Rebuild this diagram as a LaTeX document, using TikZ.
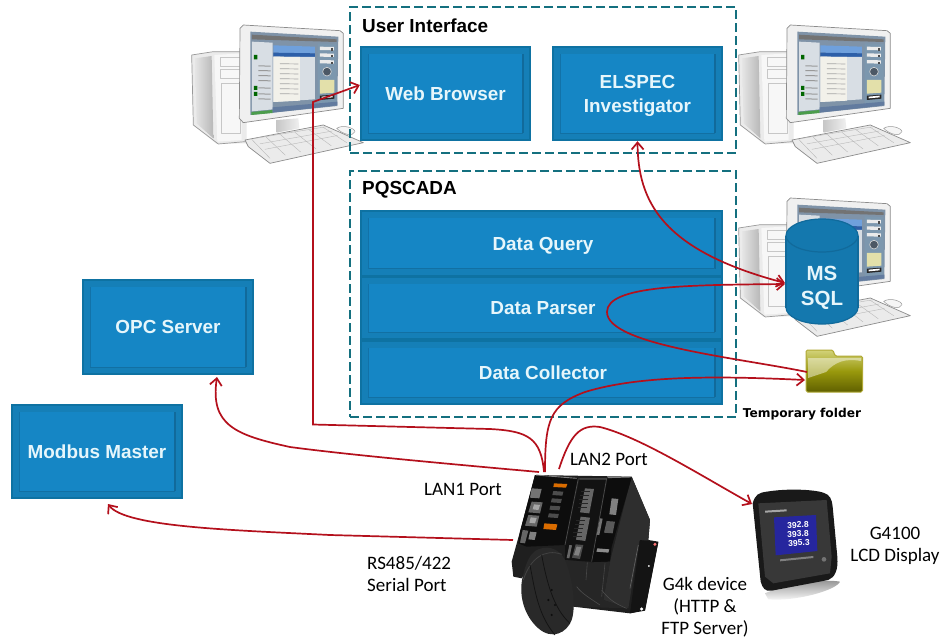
\documentclass[tikz,border=0pt]{standalone}
\usepackage{fontspec}
\setmainfont{Liberation Sans}
\newfontfamily\calib{Carlito}
\newfontfamily\dejab{DejaVu Sans}
\usetikzlibrary{arrows.meta}
\definecolor{rimblue}{HTML}{157FB7}
\definecolor{edgeblue}{HTML}{0E72A2}
\definecolor{fieldblue}{HTML}{1586C5}
\definecolor{bevdark}{HTML}{116A9B}
\definecolor{boxtext}{HTML}{E6F6FB}
\definecolor{cylblue}{HTML}{1478AE}
\definecolor{teal}{HTML}{14707F}
\definecolor{wire}{HTML}{B4101C}
\definecolor{scrframe}{HTML}{7F93A8}
\definecolor{scrpanel}{HTML}{D8DEE4}
\definecolor{scrhead}{HTML}{6FA0DC}
\definecolor{scrbar}{HTML}{2D5FA8}
\definecolor{scrpage}{HTML}{F2F1EA}
\definecolor{scrcol}{HTML}{7C97AE}
\tikzset{
  block/.style={fill=rimblue,draw=edgeblue,line width=2.4pt,text=boxtext,font=\fontsize{18.9}{22}\selectfont\bfseries,align=center,inner sep=0pt,
    path picture={
      \fill[fieldblue] ([shift={(7pt,7pt)}]path picture bounding box.south west) rectangle ([shift={(-7pt,-7pt)}]path picture bounding box.north east);
      \draw[bevdark,line width=1.2pt] ([shift={(-7pt,7pt)}]path picture bounding box.south east) -- ([shift={(-7pt,-7pt)}]path picture bounding box.north east);
      \draw[bevdark!80!fieldblue,line width=.8pt] ([shift={(7pt,7pt)}]path picture bounding box.south west) -- ([shift={(-7pt,7pt)}]path picture bounding box.south east);
      \draw[bevdark!70!fieldblue,line width=.8pt] ([shift={(7pt,7pt)}]path picture bounding box.south west) -- ([shift={(7pt,-7pt)}]path picture bounding box.north west);
    }},
  group/.style={draw=teal,line width=2pt,dash pattern=on 9pt off 4pt,inner sep=0pt},
  grouptitle/.style={font=\fontsize{18.9}{22}\selectfont\bfseries,text=black,anchor=west,inner sep=0pt},
  portlabel/.style={font=\calib\fontsize{19}{22}\selectfont,text=black,align=center,inner sep=0pt},
  wireline/.style={draw=wire,line width=1.7pt},
  tip/.style={-{Straight Barb[length=7pt,width=12pt,line width=1.7pt]}},
  tips/.style={{Straight Barb[length=7pt,width=12pt,line width=1.7pt]}-{Straight Barb[length=7pt,width=12pt,line width=1.7pt]}},
  region/.style={inner sep=0pt,draw=none}
}
\newcommand{\topstrut}{\rule{0pt}{17pt}}
\newcommand{\pcshape}[2]{%
\begin{scope}[shift={(180+#1,#2)},x=0.3333pt,y=-0.3333pt,line join=round]
  % tower
  \fill[black!8] (190,430) -- (110,432) -- (40,375) -- (35,165) -- (100,155) -- (200,155) -- (200,430) -- cycle;
  \draw[black!40,line width=.7pt] (180,155) -- (100,155) -- (35,165) -- (40,375) -- (115,432) -- (195,425);
  \shade[left color=black!10,right color=black!28] (45,175) -- (95,168) -- (100,415) -- (50,370) -- cycle;
  \fill[black!3] (103,165) -- (185,160) -- (185,420) -- (112,425) -- cycle;
  \draw[black!22,line width=.5pt] (122,172) rectangle (180,200) (122,208) rectangle (180,235) (125,250) rectangle (180,400);
  % keyboard
  \fill[black!8] (195,420) -- (430,375) -- (550,428) -- (270,490) -- (205,440) -- cycle;
  \draw[black!45,line width=.7pt] (195,420) -- (430,375) -- (550,428) -- (270,490) -- (205,440) -- cycle;
  \foreach \t in {0,.2,.4,.6,.8,1}
    \draw[black!28,line width=.4pt] ({215+\t*215},{418+\t*(-36)}) -- ({270+\t*230},{475+\t*(-47)});
  \foreach \t in {0,.33,.66}
    \draw[black!28,line width=.4pt] ({225+\t*45},{415+\t*50}) -- ({440+\t*50},{380+\t*40});
  \fill[black!4] (470,385) .. controls (490,372) and (525,385) .. (525,395) .. controls (520,410) and (490,405) .. (470,385) -- cycle;
  \draw[black!40,line width=.5pt] (470,385) .. controls (490,372) and (525,385) .. (525,395) .. controls (520,410) and (490,405) .. (470,385) -- cycle;
  % stand
  \shade[left color=black!22,right color=black!6] (290,360) -- (355,355) -- (358,385) -- (290,398) -- cycle;
  % monitor
  \fill[black!6] (180,85) -- (190,75) -- (480,92) -- (490,100) -- (490,325) -- (190,368) -- (178,355) -- cycle;
  \draw[black!45,line width=.7pt] (180,85) -- (190,75) -- (480,92) -- (490,100) -- (490,325) -- (190,368) -- (178,355) -- cycle;
  \fill[scrframe] (211,95) -- (475,110) -- (472,318) -- (211,345) -- cycle;
  \fill[scrpanel] (216,125) -- (278,128) -- (278,328) -- (216,334) -- cycle;
  \fill[scrcol] (413,130) -- (470,132) -- (470,306) -- (413,312) -- cycle;
  \fill[scrhead] (280,136) -- (405,140) -- (405,160) -- (280,158) -- cycle;
  \fill[scrbar] (280,158) -- (405,160) -- (405,171) -- (280,170) -- cycle;
  \fill[scrpanel] (280,170) -- (405,171) -- (405,298) -- (280,306) -- cycle;
  \fill[scrpage] (280,170) -- (360,171) -- (360,302) -- (280,306) -- cycle;
  \fill[black!55] (216,104) -- (470,118) -- (470,126) -- (216,118) -- cycle;
  \fill[green!45!black!70] (214,336) -- (278,330) -- (278,339) -- (214,345) -- cycle;
  \fill[scrbar!70!black!70] (278,322) -- (472,305) -- (472,316) -- (278,338) -- cycle;
  \foreach \r in {190,205,220,235,250,265,280}
    \fill[black!35] (300,\r) -- (355,\r+1) -- (355,\r+3) -- (300,\r+2) -- cycle;
  \foreach \r in {140,160,180}
    \fill[black!8] (420,\r) -- (462,\r+1) -- (462,\r+11) -- (420,\r+10) -- cycle;
  \foreach \r in {145,165,185}
    \fill[black!70] (452,\r) rectangle (460,\r+7);
  \fill[green!40!black] (222,165) rectangle (232,178) (222,258) rectangle (232,270) (222,276) rectangle (232,288);
  \foreach \r in {196,210,225,240,262,280,295}
    \fill[black!40] (235,\r) -- (272,\r+1) -- (272,\r+4) -- (235,\r+3) -- cycle;
  \draw[black!15,line width=.6pt,fill=scrframe!60!black] (441,215) circle[radius=13];
  \fill[olive!25!white] (420,240) -- (463,240) -- (463,278) -- (420,281) -- cycle;
  \fill[black!85] (420,287) -- (463,284) -- (463,296) -- (420,300) -- cycle;
  \fill[white] (425,290) -- (458,287) -- (458,292) -- (425,295) -- cycle;
\end{scope}}
\begin{document}
\begin{tikzpicture}[x=1pt,y=-1pt]
\useasboundingbox[fill=white] (0,0) rectangle (945,641);
% computers
\pcshape{0}{0}
\pcshape{547}{0}
\pcshape{547}{173}
% groups
\node[group,minimum width=386pt,minimum height=146pt] (ui) at (543,80) {};
\node[group,minimum width=386pt,minimum height=246pt] (pq) at (543,294) {};
\node[grouptitle] (uit) at (362,25.5) {User Interface};
\node[grouptitle] (pqt) at (362,189.5) {PQSCADA};
% blocks
\node[block,minimum width=169pt,minimum height=93pt] (web) at (445.5,93.5) {Web Browser};
\node[block,minimum width=169pt,minimum height=93pt] (inv) at (637.5,93.5) {\rule{0pt}{17pt}ELSPEC\\[2pt]Investigator};
\node[block,minimum width=361pt,minimum height=64.5pt] (query) at (541.5,243.5) {\hspace{3pt}\topstrut Data Query};
\node[block,minimum width=361pt,minimum height=62pt] (parser) at (541.5,308) {\hspace{3pt}Data Parser};
\node[block,minimum width=361pt,minimum height=63pt] (coll) at (541.5,372.5) {\hspace{3pt}Data Collector};
\node[block,minimum width=170pt,minimum height=94pt] (opc) at (168,327) {OPC Server};
\node[block,minimum width=170pt,minimum height=93pt] (mod) at (97,451.5) {Modbus Master};
% MS SQL cylinder
\fill[cylblue,draw=bevdark,line width=1.2pt] (822,307.5) ellipse[x radius=36pt,y radius=16.5pt];
\fill[cylblue] (786,235.5) rectangle (858,307.5);
\draw[bevdark,line width=1.2pt] (786,235.5) -- (786,307.5) (858,235.5) -- (858,307.5);
\fill[cylblue,draw=bevdark,line width=1.2pt] (822,235.5) ellipse[x radius=36pt,y radius=16.5pt];
\node[region,text=boxtext,align=center,font=\fontsize{20.5}{25.5}\selectfont\bfseries,minimum width=72pt,minimum height=105pt] (sql) at (822,288) {MS\\SQL};
% folder
\coordinate (fold) at (834,370);
\shade[top color=olive!35!white,middle color=olive!90!yellow,bottom color=olive!75!black,draw=olive!70!white,line width=1pt,rounded corners=1.5pt]
 (806,350) -- (833,350) -- (835,356) -- (862.5,356) -- (862.5,392) -- (806,392) -- cycle;
\fill[white,opacity=.45] (808,358) -- (861,358) -- (861,361) .. controls (845,358) and (835,362) .. (826,372) -- (808,378) -- cycle;
\node[region,font=\dejab\fontsize{12.2}{14}\selectfont\bfseries,text=black] (tmp) at (802,414) {Temporary folder};
% G4k device
\begin{scope}[shift={(510,465)},x=0.3333pt,y=-0.3333pt,line join=round]
  % silhouette
  \fill[black!88] (75,30) -- (365,35) -- (420,165) -- (415,225) -- (445,230) -- (405,435) -- (360,445) -- (190,425) -- (160,300) -- (60,300) -- (35,340) -- (10,335) -- (5,290) -- (30,200) -- cycle;
  % side face
  \fill[black!82] (365,35) -- (420,165) -- (415,225) -- (388,228) -- (355,430) -- (280,405) -- (300,290) -- cycle;
  % mounting flange
  \fill[black!92] (390,225) -- (445,232) -- (405,437) -- (360,445) -- cycle;
  \draw[black!60,line width=.6pt] (385,240) -- (360,370);
  \fill[red!55!white] (435,238) circle[radius=5];
  \fill[white] (395,432) circle[radius=5] (417,303) circle[radius=3];
  % front modules
  \fill[black!95] (75,30) -- (205,40) -- (165,240) -- (50,245) -- (25,235) -- (30,200) -- cycle;
  \fill[black!93] (208,42) -- (290,42) -- (245,290) -- (165,285) -- (165,240) -- cycle;
  \fill[black!95] (293,38) -- (365,38) -- (305,245) -- (300,290) -- (245,292) -- cycle;
  \draw[black!50,line width=.9pt] (78,30) -- (200,40) (208,42) -- (290,42) (293,38) -- (362,36);
  \draw[black!70,line width=.7pt] (205,40) -- (165,240) (290,40) -- (245,290);
  % lower section
  \fill[black!85] (165,285) -- (245,292) -- (300,290) -- (280,405) -- (355,430) -- (190,425) -- cycle;
  \draw[black!70,line width=.6pt] (200,365) .. controls (215,385) and (240,400) .. (270,420);
  \draw[black!70,line width=.6pt] (275,375) .. controls (290,395) and (310,415) .. (350,430);
  \draw[black!72,line width=.6pt] (232,292) -- (228,345) (285,295) -- (275,395);
  % ports on module 1
  \fill[black!55] (65,70) -- (95,72) -- (88,100) -- (60,98) -- cycle;
  \fill[black!60] (65,110) -- (98,112) -- (90,145) -- (55,142) -- cycle;
  \fill[black!35] (72,118) -- (90,120) -- (85,135) -- (68,133) -- cycle;
  \fill[black!60] (55,150) -- (88,152) -- (80,185) -- (45,182) -- cycle;
  \fill[black!35] (62,157) -- (80,159) -- (75,175) -- (58,173) -- cycle;
  \fill[black!60] (38,195) -- (55,197) -- (45,235) -- (30,233) -- cycle;
  \fill[black!50] (60,200) -- (80,202) -- (74,225) -- (55,223) -- cycle;
  % terminal block
  \fill[orange!85!black] (132,55) -- (172,57) -- (168,68) -- (130,66) -- cycle;
  \fill[orange!85!black] (103,175) -- (142,178) -- (138,195) -- (100,192) -- cycle;
  \foreach \y in {78,100,122,145}
    \fill[black!70] ({130-(\y-78)*.2},\y) -- ({160-(\y-78)*.2},\y+2) -- ({157-(\y-78)*.2},\y+14) -- ({127-(\y-78)*.2},\y+12) -- cycle;
  % module 2 connectors
  \fill[black!60] (225,70) -- (252,72) -- (238,145) -- (210,142) -- cycle;
  \fill[black!60] (212,155) -- (240,158) -- (226,228) -- (198,224) -- cycle;
  \foreach \y in {80,92,104,116,128,165,177,189,201,213}
    \draw[black!85,line width=.5pt] ({255-\y*.19},\y) -- ({228-\y*.19},\y);
  \fill[black!70] (197,238) -- (220,240) -- (210,282) -- (186,278) -- cycle;
  \fill[black!50] (200,245) -- (214,246) -- (206,272) -- (192,270) -- cycle;
  \fill[black!60] (178,240) -- (186,241) -- (178,280) -- (170,279) -- cycle;
  % module 3
  \fill[black!50] (305,100) -- (325,102) -- (318,150) -- (298,148) -- cycle;
  \fill[black!65] (290,168) -- (315,170) -- (308,205) -- (282,203) -- cycle;
  \fill[black!55] (270,160) -- (278,161) -- (268,210) -- (260,209) -- cycle;
  \fill[black!45] (262,250) -- (298,253) -- (295,263) -- (259,260) -- cycle;
  % ring
  \fill[black!84] (75,258) .. controls (105,240) and (145,245) .. (165,285) .. controls (185,330) and (200,420) .. (185,465)
     .. controls (170,505) and (125,525) .. (85,490) .. controls (45,455) and (20,390) .. (42,320) .. controls (50,290) and (60,270) .. (75,258) -- cycle;
  \draw[black!74,line width=.8pt] (40,345) .. controls (60,280) and (105,250) .. (155,268);
  \draw[black!92,line width=.8pt] (60,300) .. controls (75,380) and (85,450) .. (135,510);
  \draw[black!92,line width=.8pt] (95,270) .. controls (110,350) and (130,430) .. (180,475);
  \foreach \x/\y in {125/375,135/420,115/405,125/450}
    \fill[black!95] (\x,\y) circle[radius=3.5];
\end{scope}
\node[region,minimum width=145pt,minimum height=170pt] (g4k) at (585,555) {};
\coordinate (lan1a) at (544,472);
\coordinate (lan1b) at (539,472);
\coordinate (lan2) at (559,469);
\coordinate (serial) at (513,540);
\coordinate (collport) at (545,472);
% G4100 display
\begin{scope}[shift={(730,470)},x=0.3333pt,y=-0.3333pt,line join=round]
  \shade[top color=black!45,bottom color=white] (105,370) .. controls (160,345) and (280,325) .. (330,335) .. controls (320,360) and (200,395) .. (115,388) -- cycle;
  \fill[black!90] (68,100) .. controls (75,75) and (85,68) .. (110,65) .. controls (170,55) and (250,58) .. (280,68) .. controls (300,75) and (305,85) .. (308,110)
     -- (322,260) .. controls (325,300) and (315,322) .. (295,330) -- (125,362) .. controls (105,365) and (98,355) .. (92,335) -- cycle;
  \fill[black!78] (85,100) -- (290,90) -- (305,260) -- (300,310) -- (130,340) -- (105,320) -- cycle;
  \fill[blue!55!black!85] (132,142) -- (258,135) -- (262,243) -- (137,256) -- cycle;
  \fill[black!50] (150,268) -- (250,258) -- (250,264) -- (150,274) -- cycle;
  \fill[black!55] (282,268) circle[radius=7];
  \fill[black!35] (105,122) -- (170,118) -- (170,124) -- (105,128) -- cycle;
\end{scope}
\node[region,rotate=2,text=white,font=\fontsize{8.5}{10}\selectfont\bfseries] (v1) at (798,525) {392.8};
\node[region,rotate=2,text=white,font=\fontsize{8.5}{10}\selectfont\bfseries] (v2) at (798,534) {393.8};
\node[region,rotate=2,text=white,font=\fontsize{8.5}{10}\selectfont\bfseries] (v3) at (799,543) {395.3};
\node[region,minimum width=90pt,minimum height=105pt] (disp) at (798,532) {};
% connectors
\draw[wireline,tip] (lan1a) .. controls (541,438) and (528,431) .. (490,429) -- (313,424.5) -- (313,102) -- ([yshift=8.5pt]web.west);
\draw[wireline,tip] (lan1b) .. controls (450,464) and (350,455) .. (290,447) .. controls (235,435) and (210,425) .. (217,377);
\draw[wireline,tip] (serial) -- (330,535) .. controls (230,530) and (125,527) .. (108,504);
\draw[wireline,tip] (collport) .. controls (545,420) and (550,405) .. (585,392) .. controls (640,375) and (720,376) .. (805,380);
\draw[wireline,tip] (lan2) .. controls (570,435) and (580,424) .. (600,427) .. controls (640,437) and (700,475) .. (752,504);
\draw[wireline,tips] (inv.south) .. controls (638,200) and (660,250) .. (785,283);
\draw[wireline,tip] (807,372) .. controls (740,358) and (607,345) .. (607,312) .. controls (607,285) and (690,285) .. (785,284);
% labels
\node[portlabel] (l2) at (609,459) {LAN2 Port};
\node[portlabel] (l1) at (463,489) {LAN1 Port};
\node[portlabel,align=left,anchor=west] (ser) at (367,573.5) {RS485/422\\Serial Port};
\node[portlabel] (dev) at (705,607) {G4k device\\(HTTP \&\\FTP Server)};
\node[portlabel] (lcd) at (895,545.5) {G4100\\LCD Display};
\end{tikzpicture}
\end{document}
